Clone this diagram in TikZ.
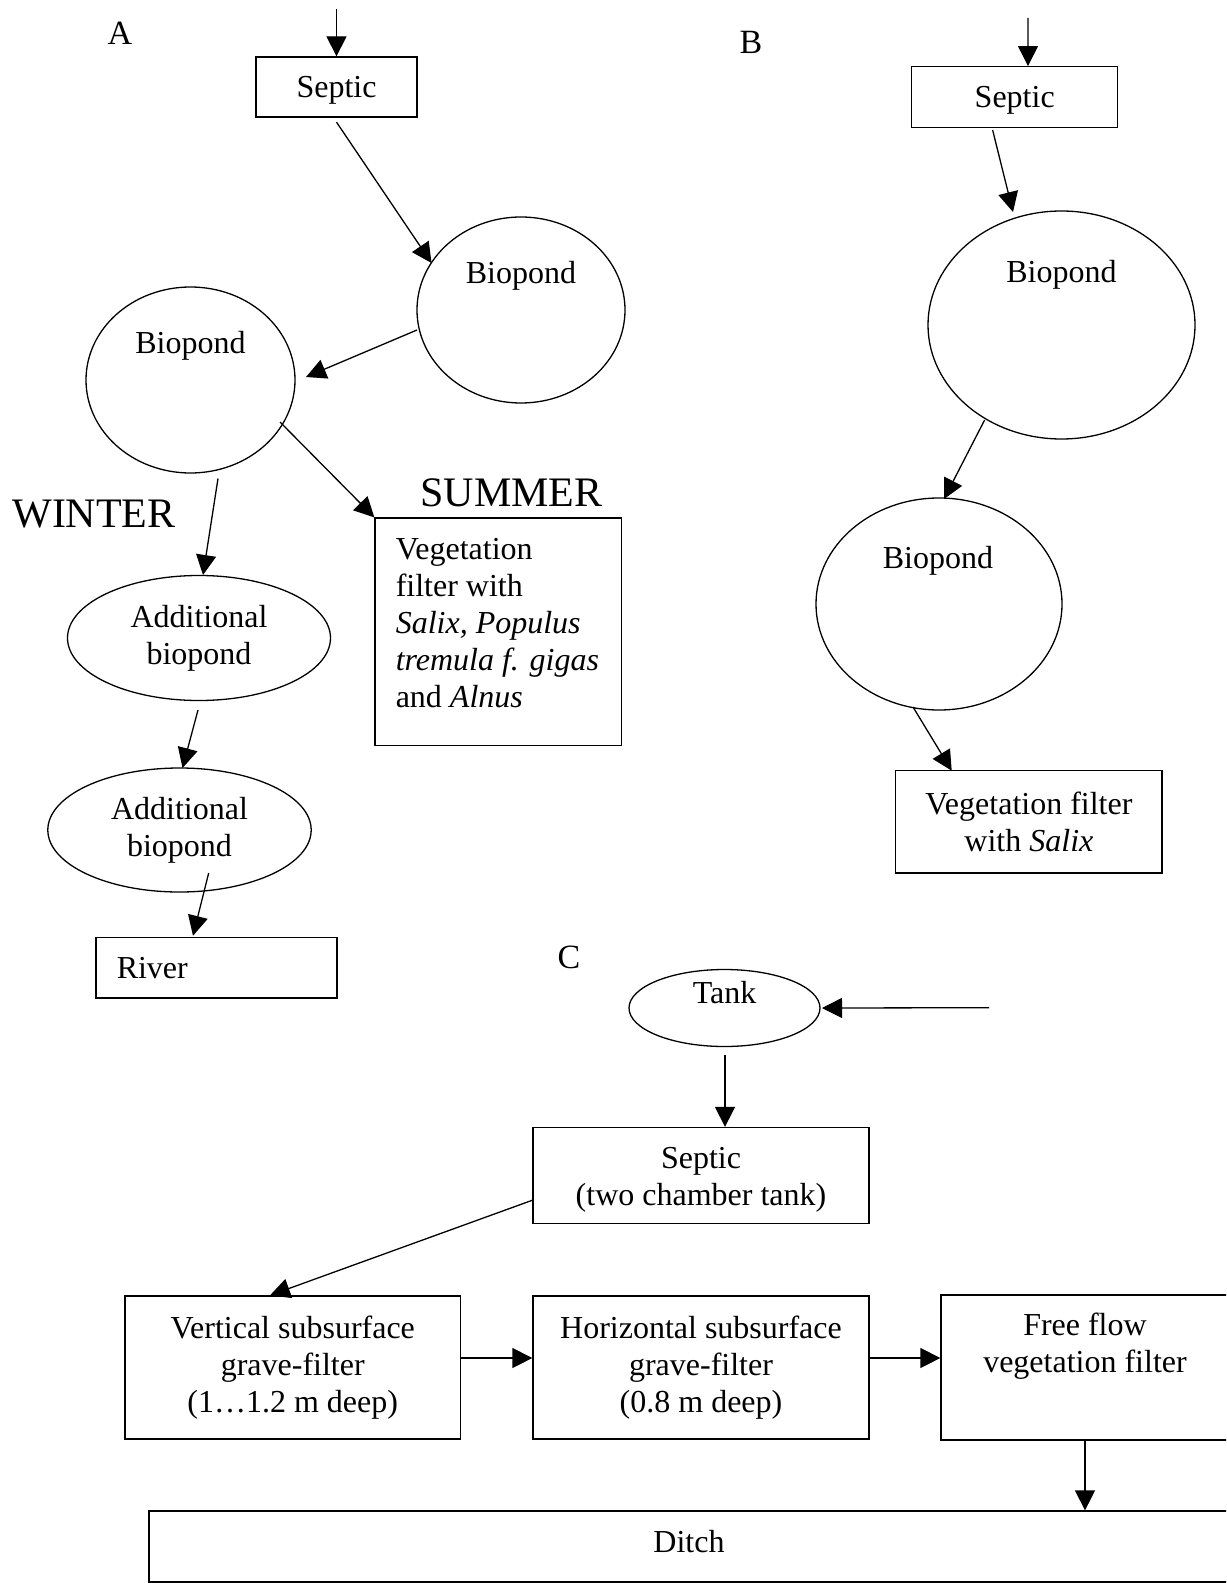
\documentclass[tikz,border=0pt]{standalone}
\usepackage{fontspec}
\setmainfont{Liberation Serif}
\usetikzlibrary{shapes.geometric,arrows.meta}
\begin{document}
\begin{tikzpicture}[x=0.5pt,y=-0.5pt,
  every node/.style={font=\fontsize{16pt}{18.5pt}\selectfont},
  box/.style={draw, rectangle, line width=0.65pt, inner sep=0pt, align=center},
  pond/.style={draw, ellipse, line width=0.65pt, inner sep=0pt, align=center},
  flow/.style={line width=0.65pt, -{Triangle[length=10pt,width=10pt]}},
  panel/.style={font=\fontsize{17pt}{20pt}\selectfont, inner sep=0pt},
  season/.style={font=\fontsize{21pt}{24pt}\selectfont, inner sep=0pt},
  txt/.style={inner sep=0pt}]
\clip (0,0) rectangle (1226,1583);
\fill[white] (0,0) rectangle (1226,1583);

% ---------- Panel A ----------
\node[panel] (lA) at (120,33) {A};
\node[box, text depth=0pt, minimum width=80.5pt, minimum height=30pt] (sepA) at (336.5,87) {Septic};
\node[pond, minimum width=104pt, minimum height=93pt] (bA1) at (521,310) {};
\node[txt] (tA1) at ([shift={(0,-34)}]bA1.center) {Biopond};
\node[pond, minimum width=104.5pt, minimum height=93pt] (bA2) at (190.5,380) {};
\node[txt] (tA2) at ([shift={(0,-34)}]bA2.center) {Biopond};
\node[season] (winter) at (94,514) {WINTER};
\node[season] (summer) at (511.5,493) {SUMMER};
\node[pond, minimum width=131.5pt, minimum height=62.5pt] (ad1) at (199,638) {Additional\\biopond};
\node[pond, minimum width=131.7pt, minimum height=62pt] (ad2) at (179.5,830) {Additional\\biopond};
\node[box, minimum width=120.5pt, minimum height=30.25pt] (river) at (216.5,967.75) {};
\node[txt, anchor=west] (triver) at ([shift={(21,0)}]river.west) {River};
\node[box, minimum width=123.3pt, minimum height=113.85pt] (vegA) at (498.3,631.9) {};
\node[txt, anchor=west, align=left] (tvegA) at ([shift={(21,-9)}]vegA.west)
  {Vegetation\\filter with\\\textit{Salix, Populus}\\\textit{tremula f. gigas}\\and \textit{Alnus}};

\coordinate (inA) at (336.5,9);
\draw[flow] (inA) -- (sepA.north);
\draw[flow] ([shift={(0,4.5)}]sepA.south) -- ([shift={(-89.5,-47)}]bA1.center);
\draw[flow] ([shift={(-104,20)}]bA1.center) -- ([shift={(115.5,-3)}]bA2.center);
\draw[flow] ([shift={(27.5,98.5)}]bA2.center) -- ([shift={(4,-63)}]ad1.center);
\draw[flow] ([shift={(89.5,42)}]bA2.center) -- (vegA.north west);
\draw[flow] ([shift={(-1,72)}]ad1.center) -- ([shift={(3,-62)}]ad2.center);
\draw[flow] ([shift={(29.2,43)}]ad2.center) -- ([shift={(-23.5,-32)}]river.center);

% ---------- Panel B ----------
\node[panel] (lB) at (751,42) {B};
\node[box, text depth=0pt, minimum width=102.9pt, minimum height=30.5pt] (sepB) at (1014.7,97.2) {Septic};
\node[pond, minimum width=133.5pt, minimum height=114pt] (bB1) at (1061.5,325) {};
\node[txt] (tB1) at ([shift={(0,-50)}]bB1.center) {Biopond};
\node[pond, minimum width=123pt, minimum height=106pt] (bB2) at (939,604) {};
\node[txt] (tB2) at ([shift={(-1,-43)}]bB2.center) {Biopond};
\node[box, minimum width=133.15pt, minimum height=51.15pt] (vegB) at (1028.9,821.9) {Vegetation filter\\with \textit{Salix}};

\coordinate (inB) at (1028,18);
\draw[flow] (inB) -- ([shift={(13.3,0)}]sepB.north);
\draw[flow] ([shift={(-22.1,32.8)}]sepB.center) -- ([shift={(-48.5,-113)}]bB1.center);
\draw[flow] ([shift={(-76.9,95)}]bB1.center) -- ([shift={(5,-105)}]bB2.center);
\draw[flow] ([shift={(-26,103)}]bB2.center) -- ([shift={(-77.2,-51.2)}]vegB.center);

% ---------- Panel C ----------
\node[panel] (lC) at (569,957) {C};
\node[pond, minimum width=95.5pt, minimum height=38.5pt] (tank) at (724.5,1008) {};
\node[txt] (ttank) at ([shift={(0,-15.5)}]tank.center) {Tank};
\node[box, minimum width=168pt, minimum height=48.1pt] (sepC) at (701,1175.6) {};
\node[txt, align=center] (tsepC) at ([shift={(0,4)}]sepC.center) {Septic\\(two chamber tank)};
\node[box, minimum width=167.75pt, minimum height=71.5pt] (vert) at (292.75,1367.5) {Vertical subsurface\\grave-filter\\(1…1.2 m deep)};
\node[box, minimum width=168pt, minimum height=71.5pt] (horiz) at (701,1367.5) {Horizontal subsurface\\grave-filter\\(0.8 m deep)};
\node[box, minimum width=144pt, minimum height=72.5pt] (free) at (1085,1367.5) {};
\node[txt, align=center] (tfree) at ([shift={(0,-21)}]free.center) {Free flow\\vegetation filter};
\node[box, minimum width=540pt, minimum height=35.5pt] (ditch) at (689,1546.5) {};
\node[txt] (tditch) at ([shift={(0,-4.5)}]ditch.center) {Ditch};

\coordinate (inC) at (989,1007.7);
\draw[flow] (inC) -- ([shift={(97.5,0)}]tank.center);
\draw[flow] ([shift={(0.5,47)}]tank.center) -- ([shift={(24,0)}]sepC.north);
\draw[flow] ([shift={(-168,24.4)}]sepC.center) -- ([shift={(-22.75,0)}]vert.north);
\draw[flow] ([shift={(0,-9.5)}]vert.east) -- ([shift={(0,-9.5)}]horiz.west);
\draw[flow] ([shift={(0,-9.5)}]horiz.east) -- ([shift={(0,-9.5)}]free.west);
\draw[flow] (free.south) -- (ditch.north -| free.south);
\end{tikzpicture}
\end{document}
